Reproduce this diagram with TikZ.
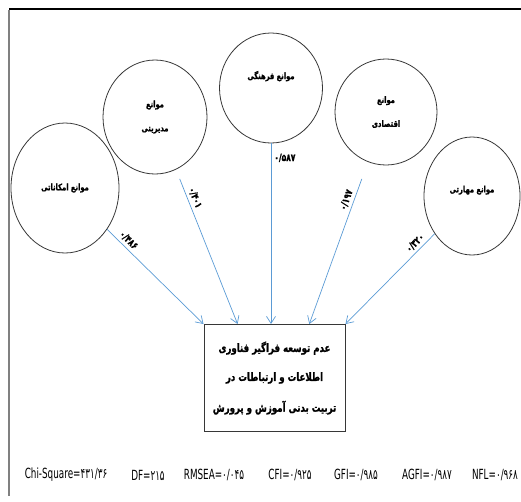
\documentclass[tikz,border=0pt]{standalone}
\usepackage{fontspec}
\usetikzlibrary{shapes.geometric,arrows.meta,calc}

\TeXXeTstate=1
\newfontfamily\fafont[Script=Arabic, FakeStretch=0.75, BoldFeatures={FakeBold=1.2}]{DejaVu Sans}
\newfontfamily\statfont[FakeStretch=0.63]{DejaVu Sans}
\newcommand{\fatext}[1]{\beginR #1\endR}

\definecolor{pathblue}{RGB}{91,155,213}
\definecolor{rimgray}{RGB}{55,55,55}

\begin{document}
\begin{tikzpicture}[x=1pt, y=-1pt,
    oval/.style={ellipse, draw=rimgray, line width=0.8pt, align=center,
      font=\fafont\bfseries\fontsize{9}{10}\selectfont},
    link/.style={draw=pathblue, line width=0.7pt,
      -{Straight Barb[length=7pt,width=9pt]}},
    wt/.style={font=\fafont\bfseries\fontsize{10}{11}\selectfont, inner sep=3pt},
    stat/.style={font=\statfont\fontsize{14}{16}\selectfont, inner sep=0pt}]

  \useasboundingbox (0,0) rectangle (521,501);

  % Frame
  \draw[line width=1.5pt] (9,9) -- (521,9);
  \draw[gray, line width=1.5pt] (9,10) -- (9,496);

  % Barriers
  \node[oval, minimum width=108, minimum height=130] (c1) at (65,188)
    {\fatext{موانع امکاناتی}};
  \node[oval, minimum width=104, minimum height=114] (c2) at (155,117)
    {\fatext{موانع}\\[14pt]\fatext{مدیریتی}};
  \node[oval, minimum width=103, minimum height=110, text depth=26pt] (c3) at (271,88)
    {\fatext{موانع فرهنگی}};
  \node[oval, minimum width=102, minimum height=106] (c4) at (386,112)
    {\fatext{موانع}\\[14pt]\fatext{اقتصادی}};
  \node[oval, minimum width=96, minimum height=118, text depth=14pt] (c5) at (472,196)
    {\fatext{موانع مهارتی}};

  % Outcome
  \node[draw=rimgray, line width=1pt, minimum width=141, minimum height=107,
    align=center, font=\fafont\bfseries\fontsize{11.5}{13}\selectfont] (box) at (274.5,378)
    {\fatext{عدم توسعه فراگیر فناوری}\\[16pt]
     \fatext{اطلاعات و ارتباطات در}\\[16pt]
     \fatext{تربیت بدنی آموزش و پرورش}};

  \coordinate (in2) at ($(box.north west)!0.24!(box.north east)$);
  \coordinate (in4) at ($(box.north west)!0.745!(box.north east)$);

  % Paths
  \draw[link] (c1) -- node[wt, sloped, above, pos=0.17] {۰/۴۸۶} (box.north west);
  \draw[link, shorten <=10pt] (c2) -- node[wt, sloped, above, pos=0.2] {۰/۴۰۱} (in2);
  \draw[link] (c3) -- node[wt, right, pos=0.08] {۰/۵۸۷} (c3 |- box.north);
  \draw[link, shorten <=18pt] (c4) -- node[wt, sloped, above, pos=0.25] {۰/۱۹۷} (in4);
  \draw[link] (c5) -- node[wt, sloped, above, pos=0.16] {۰/۳۲۰} (box.north east);

  % Fit indices
  \node[stat] (chisq) at (66,475) {Chi-Square=۴۳۱/۳۶};
  \node[stat] (df) at (148,475) {DF=۲۱۵};
  \node[stat] (rmsea) at (214,475) {RMSEA=۰/۰۴۵};
  \node[stat] (cfi) at (290,475) {CFI=۰/۹۲۵};
  \node[stat] (gfi) at (356,475) {GFI=۰/۹۸۵};
  \node[stat] (agfi) at (427,475) {AGFI=۰/۹۸۷};
  \node[stat] (nfl) at (495,475) {NFL=۰/۹۶۸};
\end{tikzpicture}
\end{document}
